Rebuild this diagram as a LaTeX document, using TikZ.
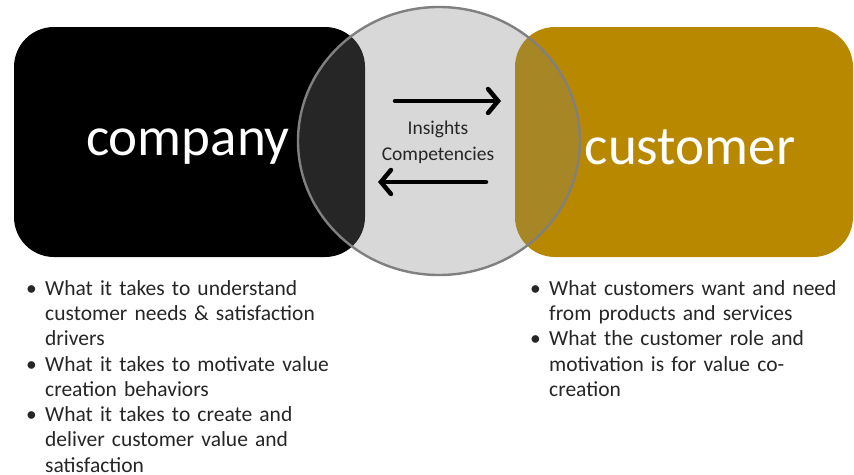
\documentclass[tikz,border=0pt]{standalone}
\usepackage{fontspec}
\setmainfont{Carlito}
\usetikzlibrary{arrows.meta,shapes.geometric}
\definecolor{gold}{RGB}{184,137,0}
\definecolor{ringgray}{RGB}{128,128,128}
\definecolor{bodytext}{RGB}{38,38,38}
\tikzset{
  panel/.style={rounded corners=40pt, inner sep=0pt},
  bigword/.style={text=white, font=\fontsize{55}{60}\selectfont, inner sep=0pt},
  flow/.style={line width=4.5pt, -{Straight Barb[length=10pt, width=24pt, line cap=round]}, line cap=round},
  bulletlist/.style={anchor=north west, inner sep=0pt, align=left, text=bodytext,
    font=\fontsize{21.5}{25.3}\selectfont},
}
\newcommand{\bulletitem}[1]{\hangindent=20pt\hangafter=1\noindent\makebox[20pt][l]{\hspace{1pt}•}#1\par}
\begin{document}
\begin{tikzpicture}[x=1pt, y=-1pt]
  \useasboundingbox (0,0) rectangle (854,474);
  \fill[white] (0,0) rectangle (854,474);

  % two side panels
  \fill[black, panel] (14,27) rectangle (365,257);
  \fill[gold, panel] (515,27) rectangle (853,257);
  \node[bigword] (company) at (188,147) {company};
  \node[bigword] (customer) at (690,147) {customer};

  % shared ring in the middle
  \node[ellipse, draw=ringgray, line width=2.4pt, fill=ringgray, fill opacity=0.3,
        draw opacity=1, minimum width=282pt, minimum height=268pt, inner sep=0pt]
        (ring) at (439,141) {};
  \node[font=\fontsize{19.5}{26}\selectfont, text=bodytext, align=center, inner sep=0pt]
        (label) at (438,142) {Insights\\Competencies};

  % exchange arrows
  \coordinate (toR0) at (395,101);
  \coordinate (toR1) at (501,101);
  \coordinate (toL0) at (486,182);
  \coordinate (toL1) at (378,182);
  \draw[flow] (toR0) -- (toR1);
  \draw[flow] (toL0) -- (toL1);

  % bullet lists
  \node[bulletlist, text width=330pt] (companylist) at (25,280) {%
    \bulletitem{What it takes to understand\newline customer needs \& satisfaction\newline drivers}%
    \bulletitem{What it takes to motivate value\newline creation behaviors}%
    \bulletitem{What it takes to create and\newline deliver customer value and\newline satisfaction}};
  \node[bulletlist, text width=330pt] (customerlist) at (529,280) {%
    \bulletitem{What customers want and need\newline from products and services}%
    \bulletitem{What the customer role and\newline motivation is for value co-\newline creation}};
\end{tikzpicture}
\end{document}
